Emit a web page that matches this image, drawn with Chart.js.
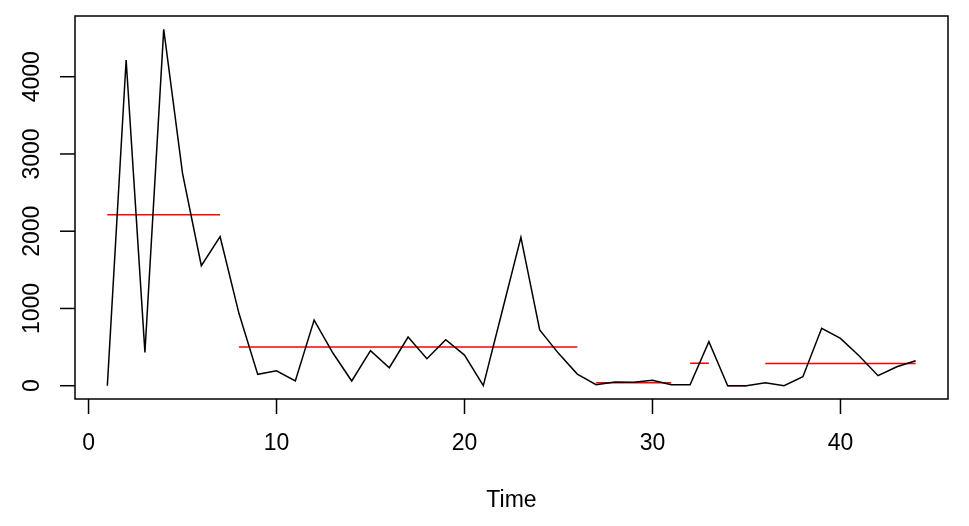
<!DOCTYPE html>
<html>
<head>
<meta charset="utf-8">
<script src="https://cdn.jsdelivr.net/npm/chart.js@4/dist/chart.umd.min.js"></script>
<style>
  html, body { margin: 0; padding: 0; background: #fff; }
  canvas { display: block; }
</style>
</head>
<body>
<canvas id="ts-chart" width="969" height="526"></canvas>
<script>
// observed series, one value per time step (t = 1..44)
const seriesValues = [0, 4216, 432, 4613, 2749, 1553, 1929, 937, 147, 194,
  61, 850, 423, 61, 453, 233, 630, 350, 596, 397,
  0, 960, 1921, 721, 419, 151, 13, 48, 44, 70,
  13, 13, 570, 0, 0, 39, 0, 117, 743, 613,
  384, 130, 246, 324];

// segment means (changepoints)
const segStart = [1, 8, 27, 32, 34, 36];
const segEnd = [7, 26, 31, 33, 35, 44];
const segMean = [2213, 500, 38, 291, 0, 288];

const xTicks = [0, 10, 20, 30, 40];
const yTicks = [0, 1000, 2000, 3000, 4000];
const xTitle = 'Time';

const font = '23px "Liberation Sans", Arial, sans-serif';

const seriesPoints = seriesValues.map((v, i) => ({ x: i + 1, y: v }));

const datasets = [{
  data: seriesPoints,
  showLine: true,
  borderColor: '#000',
  borderWidth: 1.5,
  pointRadius: 0,
  tension: 0
}];
segMean.forEach((m, i) => {
  datasets.push({
    data: [{ x: segStart[i], y: m }, { x: segEnd[i], y: m }],
    showLine: true,
    borderColor: '#ff0000',
    borderWidth: 1.5,
    pointRadius: 0
  });
});

// R-style box, ticks and labels
const baseAxes = {
  id: 'baseAxes',
  afterDraw(chart) {
    const ctx = chart.ctx;
    const area = chart.chartArea;
    const xs = chart.scales.x;
    const ys = chart.scales.y;
    ctx.save();
    ctx.strokeStyle = '#000';
    ctx.lineWidth = 1.5;
    ctx.strokeRect(area.left, area.top, area.right - area.left, area.bottom - area.top);

    ctx.fillStyle = '#000';
    ctx.font = font;
    ctx.textAlign = 'center';
    ctx.textBaseline = 'middle';
    xTicks.forEach(t => {
      const px = xs.getPixelForValue(t);
      ctx.beginPath();
      ctx.moveTo(px, area.bottom);
      ctx.lineTo(px, area.bottom + 15);
      ctx.stroke();
      ctx.fillText(String(t), px, area.bottom + 45);
    });
    ctx.fillText(xTitle, (area.left + area.right) / 2, area.bottom + 102);

    yTicks.forEach(t => {
      const py = ys.getPixelForValue(t);
      ctx.beginPath();
      ctx.moveTo(area.left, py);
      ctx.lineTo(area.left - 15, py);
      ctx.stroke();
      ctx.save();
      ctx.translate(area.left - 42, py);
      ctx.rotate(-Math.PI / 2);
      ctx.fillText(String(t), 0, 0);
      ctx.restore();
    });
    ctx.restore();
  }
};

new Chart(document.getElementById('ts-chart'), {
  type: 'scatter',
  data: { datasets: datasets },
  options: {
    responsive: false,
    animation: false,
    layout: { padding: { left: 75, top: 16, right: 21, bottom: 127 } },
    plugins: { legend: { display: false }, tooltip: { enabled: false } },
    scales: {
      x: { type: 'linear', min: -0.72, max: 45.72, display: false },
      y: { type: 'linear', min: -172, max: 4786, display: false }
    }
  },
  plugins: [baseAxes]
});
</script>
</body>
</html>
